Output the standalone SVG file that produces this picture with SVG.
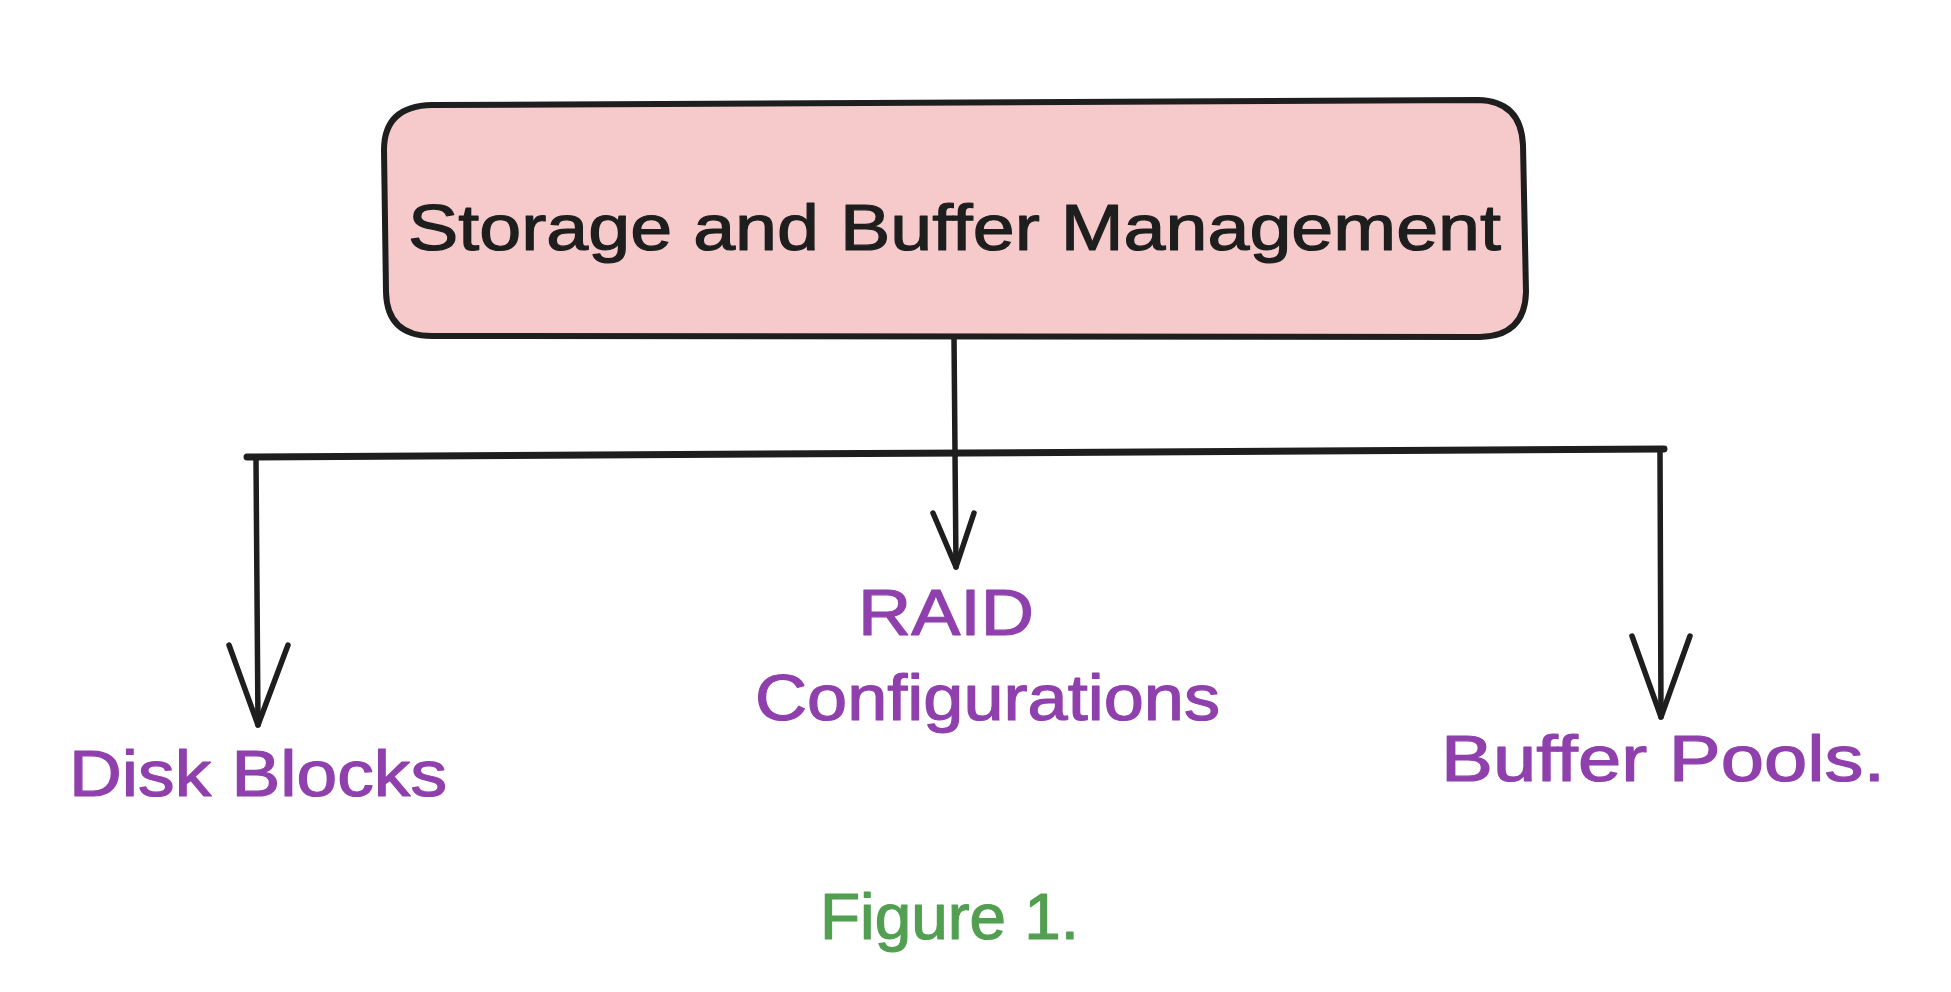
<svg xmlns="http://www.w3.org/2000/svg" width="1951" height="992" viewBox="0 0 1951 992">
<style>
.txt{font-family:"Liberation Sans","DejaVu Sans",sans-serif;font-size:64px;stroke-width:1.2;stroke-linejoin:round}
.title{fill:#1e1e1e;stroke:#1e1e1e}
.purple{fill:#8f40ad;stroke:#8f40ad}
.green{fill:#529f52;stroke:#529f52}
.line{fill:none;stroke:#1e1e1e;stroke-linecap:round;stroke-linejoin:round}
.thin{stroke-width:5.5}
.thick{stroke-width:7}
</style>
<rect width="1951" height="992" fill="#ffffff"/>
<g id="node-storage">
<path d="M 432,105 L 1478,100 Q 1521,101 1523,145 L 1526,292 Q 1525,336 1480,337 L 432,336 Q 387,336 386,292 L 384,150 Q 384,106 432,105 Z" fill="#f6caca" stroke="#1e1e1e" stroke-width="6"/>
<text class="txt title" x="408" y="250" textLength="1093" lengthAdjust="spacingAndGlyphs">Storage and Buffer Management</text>
</g>
<g id="connectors">
<path class="line thin" d="M 954,337 L 956,567"/>
<path class="line thin" d="M 933,513 L 956,567 L 974,513"/>
<path class="line thick" d="M 247,457 L 1664,449"/>
<path class="line thin" d="M 256,459 L 258,725"/>
<path class="line thin" d="M 229,645 L 258,725 L 288,645"/>
<path class="line thin" d="M 1660,450 L 1661,717"/>
<path class="line thin" d="M 1632,636 L 1661,717 L 1690,636"/>
</g>
<g id="node-disk-blocks">
<text class="txt purple" x="69" y="796" textLength="378" lengthAdjust="spacingAndGlyphs">Disk Blocks</text>
</g>
<g id="node-raid">
<text class="txt purple" x="858" y="635" textLength="176" lengthAdjust="spacingAndGlyphs">RAID</text>
<text class="txt purple" x="755" y="720" textLength="465" lengthAdjust="spacingAndGlyphs">Configurations</text>
</g>
<g id="node-buffer-pools">
<text class="txt purple" x="1441" y="781" textLength="444" lengthAdjust="spacingAndGlyphs">Buffer Pools.</text>
</g>
<g id="caption">
<text class="txt green" x="820" y="939" textLength="259" lengthAdjust="spacingAndGlyphs">Figure 1.</text>
</g>
</svg>
